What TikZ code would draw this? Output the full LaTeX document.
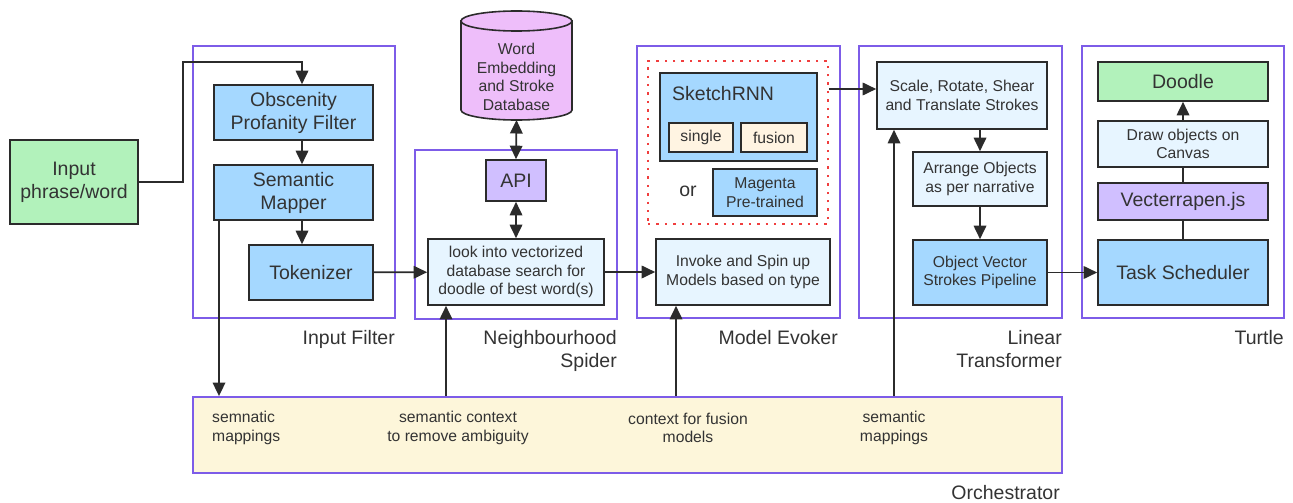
\documentclass[tikz,border=0pt]{standalone}
\usepackage{fontspec}
\setmainfont{Liberation Sans}
\usetikzlibrary{arrows.meta}

\definecolor{txtgray}{HTML}{333333}
\definecolor{edgegray}{HTML}{2B2B2B}
\definecolor{grpviolet}{HTML}{7D5CE8}
\definecolor{fillblue}{HTML}{A5D8FF}
\definecolor{filllight}{HTML}{E7F5FF}
\definecolor{fillgreen}{HTML}{B2F2BB}
\definecolor{fillpink}{HTML}{EEBEFA}
\definecolor{fillviolet}{HTML}{D0BFFF}
\definecolor{fillcream}{HTML}{FFF4E2}
\definecolor{fillorch}{HTML}{FDF6DA}
\definecolor{dotred}{HTML}{F03E3E}

\newcommand{\lgtxt}{\fontsize{19.5}{23}\selectfont}
\newcommand{\smtxt}{\fontsize{15.7}{18.5}\selectfont}

\begin{document}
\begin{tikzpicture}[x=1pt,y=-1pt,
	box/.style={draw=edgegray, line width=1.6pt, text=txtgray, align=center, inner sep=0pt},
	bluebox/.style={box, fill=fillblue},
	lightbox/.style={box, fill=filllight, font=\smtxt},
	dbshape/.style={draw=edgegray, line width=1.6pt, fill=fillpink},
	group/.style={draw=grpviolet, line width=1.8pt, inner sep=0pt},
	grplabel/.style={text=txtgray, font=\lgtxt, align=right, inner sep=0pt, anchor=north east},
	note/.style={text=txtgray, font=\smtxt, inner sep=0pt},
	arr/.style={draw=edgegray, line width=1.8pt, -{Triangle[length=13.5pt,width=12.5pt]}},
	biarr/.style={draw=edgegray, line width=1.8pt, {Triangle[length=13.5pt,width=12.5pt]}-{Triangle[length=13.5pt,width=12.5pt]}},
	link/.style={draw=edgegray, line width=1.8pt}]

	\useasboundingbox (0,0) rectangle (1293,503);

	% groups
	\node[group, minimum width=202, minimum height=272] (infilter) at (294,182) {};
	\node[group, minimum width=202, minimum height=169] (nspider) at (516,234.5) {};
	\node[group, minimum width=203, minimum height=272] (mevoker) at (738.5,182) {};
	\node[group, minimum width=203, minimum height=272] (ltrans) at (960.5,182) {};
	\node[group, minimum width=202, minimum height=272] (turtle) at (1183,182) {};
	\node[group, fill=fillorch, minimum width=869, minimum height=76] (orch) at (627.5,435) {};

	\node[grplabel] (infilterlbl) at (395,330) {Input Filter};
	\node[grplabel] (nspiderlbl) at (617,330) {Neighbourhood\\Spider};
	\node[grplabel] (mevokerlbl) at (838,330) {Model Evoker};
	\node[grplabel] (ltranslbl) at (1062,330) {Linear\\Transformer};
	\node[grplabel] (turtlelbl) at (1284,330) {Turtle};
	\node[grplabel] (orchlbl) at (1060,485) {Orchestrator};

	% input filter
	\node[box, fill=fillgreen, font=\lgtxt, minimum width=128, minimum height=84] (input) at (74,182) {Input\\phrase/word};
	\node[bluebox, font=\lgtxt, minimum width=159, minimum height=55] (obsc) at (293.5,112.5) {Obscenity\\Profanity Filter};
	\node[bluebox, font=\lgtxt, minimum width=159, minimum height=55] (mapper) at (293.5,192.5) {Semantic\\Mapper};
	\node[bluebox, font=\lgtxt, minimum width=124, minimum height=55] (token) at (311,272.5) {Tokenizer};

	% neighbourhood spider
	\draw[dbshape] (461,21) -- (461,110) arc[start angle=180, end angle=360, x radius=55.5pt, y radius=10pt] -- (572,21) -- cycle;
	\draw[dbshape] (516.5,21) ellipse[x radius=55.5pt, y radius=10pt];
	\coordinate (dbbase) at (516.5,120);
	\node[text=txtgray, font=\smtxt, align=center, inner sep=0pt] (db) at (516.5,77) {Word\\Embedding\\and Stroke\\Database};
	\node[box, fill=fillviolet, font=\lgtxt, minimum width=60, minimum height=41] (api) at (516,180.5) {API};
	\node[lightbox, minimum width=176, minimum height=66] (look) at (516,272) {look into vectorized\\database search for\\doodle of best word(s)};

	% model evoker
	\node[draw=dotred, line width=2pt, dash pattern=on 2.4pt off 6pt, minimum width=180, minimum height=163] (models) at (738,142.5) {};
	\node[bluebox, minimum width=157, minimum height=88] (sketch) at (738.5,117) {};
	\node[text=txtgray, font=\lgtxt, inner sep=0pt, anchor=west] (sketchlbl) at (672,94) {SketchRNN};
	\node[box, fill=fillcream, font=\smtxt, minimum width=64, minimum height=29] (single) at (701,137.5) {single};
	\node[box, fill=fillcream, font=\smtxt, minimum width=66, minimum height=29] (fusion) at (774,137.5) {fusion};
	\node[text=txtgray, font=\lgtxt, inner sep=0pt] (or) at (688,191) {or};
	\node[bluebox, font=\smtxt, minimum width=104, minimum height=47] (magenta) at (765,192.5) {Magenta\\Pre-trained};
	\node[lightbox, minimum width=174, minimum height=66] (invoke) at (743,272) {Invoke and Spin up\\Models based on type};

	% linear transformer
	\node[lightbox, minimum width=170, minimum height=67] (scale) at (962,95.5) {Scale, Rotate, Shear\\and Translate Strokes};
	\node[lightbox, minimum width=134, minimum height=54] (arrange) at (980,179) {Arrange Objects\\as per narrative};
	\node[bluebox, font=\smtxt, minimum width=134, minimum height=65] (objvec) at (980,272.5) {Object Vector\\Strokes Pipeline};

	% turtle
	\node[box, fill=fillgreen, font=\lgtxt, minimum width=170, minimum height=39] (doodle) at (1183,81.5) {Doodle};
	\node[lightbox, minimum width=170, minimum height=46] (drawobj) at (1183,144) {Draw objects on\\Canvas};
	\node[box, fill=fillviolet, font=\lgtxt, minimum width=170, minimum height=37] (vect) at (1183,201.5) {Vecterrapen.js};
	\node[bluebox, font=\lgtxt, minimum width=170, minimum height=65] (task) at (1183,272.5) {Task Scheduler};

	% orchestrator notes
	\node[note, align=left, anchor=west] (note1) at (212,428) {semnatic\\mappings};
	\node[note, align=center] (note2) at (458,428) {semantic context\\to remove ambiguity};
	\node[note, align=center] (note3) at (688,428) {context for fusion\\models};
	\node[note, align=center] (note4) at (894,428) {semantic\\mappings};

	\coordinate (bend) at (183,62);
	\coordinate (colA) at (302,0);
	\coordinate (colB) at (219,0);
	\coordinate (colC) at (446,0);
	\coordinate (colD) at (676,0);
	\coordinate (colE) at (894,0);
	\coordinate (rowA) at (0,89);

	\draw[arr] (input.east) -| (bend) -| (obsc.north -| colA);
	\draw[arr] (obsc.south -| colA) -- (mapper.north -| colA);
	\draw[arr] (mapper.south -| colA) -- (token.north -| colA);
	\draw[arr] (mapper.south -| colB) -- (orch.north -| colB);
	\draw[arr] (token) -- (look);
	\draw[biarr] (dbbase) -- (api.north);
	\draw[biarr] (api) -- (look);
	\draw[arr] (look) -- (invoke);
	\draw[arr] (models.east |- rowA) -- (scale.west |- rowA);
	\draw[arr] (scale.south -| arrange) -- (arrange);
	\draw[arr] (arrange) -- (objvec);
	\draw[arr] (objvec) -- (task);
	\draw[link] (task) -- (vect);
	\draw[link] (vect) -- (drawobj);
	\draw[arr] (drawobj) -- (doodle);
	\draw[arr] (orch.north -| colC) -- (look.south -| colC);
	\draw[arr] (orch.north -| colD) -- (invoke.south -| colD);
	\draw[arr] (orch.north -| colE) -- (scale.south -| colE);

\end{tikzpicture}
\end{document}
